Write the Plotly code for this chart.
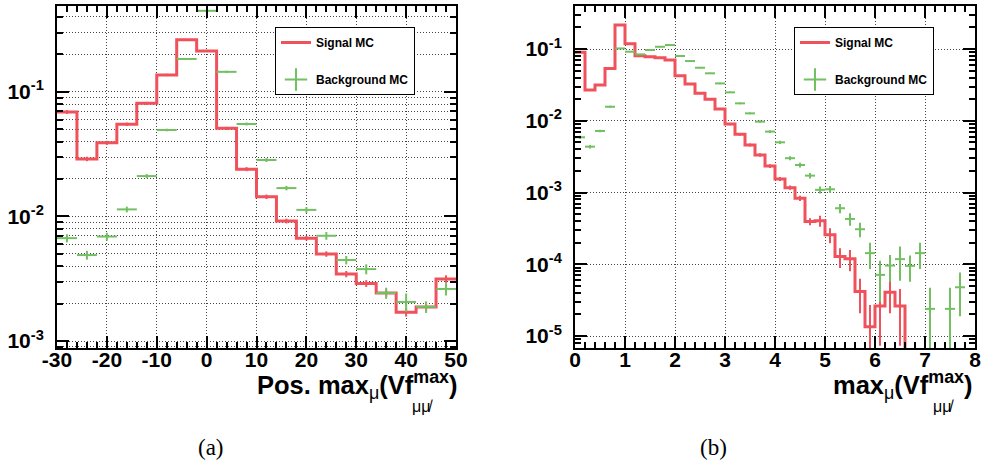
import numpy as np
import plotly.graph_objects as go

# ---------------- data ----------------
# panel (a): Pos. max_mu(Vf^max), bins of width 4 from -30 to 50
edges_a = [-30, -26, -22, -18, -14, -10, -6, -2, 2, 6, 10, 14, 18, 22, 26, 30, 34, 38, 42, 46, 50]
sig_a = [0.069, 0.029, 0.039, 0.055, 0.081, 0.137, 0.262, 0.213, 0.051, 0.024,
         0.0144, 0.0092, 0.0067, 0.0050, 0.00345, 0.0029, 0.00243, 0.0017, 0.00188, 0.00315]
sig_a_err = [0.0025, 0.0012, 0.0015, 0.0018, 0.0022, 0.003, 0.004, 0.0035, 0.0015, 0.0009,
             0.0006, 0.0004, 0.0003, 0.00025, 0.0002, 0.00018, 0.00016, 0.00013, 0.00014, 0.00022]
bkg_a = [0.0067, 0.0049, 0.0069, 0.0114, 0.0211, 0.0495, 0.184, 0.448, 0.145, 0.0553,
         0.0284, 0.0169, 0.0113, 0.0070, 0.00447, 0.00378, 0.00243, 0.00206, 0.00188, 0.00262]
bkg_a_err = [0.0005, 0.0004, 0.0005, 0.0006, 0.0008, 0.0012, 0.003, 0.006, 0.003, 0.0015,
             0.001, 0.0007, 0.0006, 0.0005, 0.00035, 0.00035, 0.00025, 0.00035, 0.0002, 0.0003]

# panel (b): max_mu(Vf^max), bins of width 0.2 from 0 to 8
edges_b = [0.0, 0.2, 0.4, 0.6, 0.8, 1.0, 1.2, 1.4, 1.6, 1.8, 2.0, 2.2, 2.4, 2.6, 2.8, 3.0,
           3.2, 3.4, 3.6, 3.8, 4.0, 4.2, 4.4, 4.6, 4.8, 5.0, 5.2, 5.4, 5.6, 5.8, 6.0, 6.2,
           6.4, 6.6, 6.8, 7.0, 7.2, 7.4, 7.6, 7.8, 8.0]
sig_b = [0.090, 0.0269, 0.0316, 0.0537, 0.216, 0.119, 0.0807, 0.078, 0.0757, 0.0703,
         0.0425, 0.0326, 0.0242, 0.0199, 0.0146, 0.0090, 0.00648, 0.0046, 0.00334, 0.00234,
         0.00155, 0.00117, 0.00083, 0.000394, 0.000403, 0.000257, 0.000128, 0.000119, 4.17e-5, 1.35e-5,
         2.63e-5, 4.07e-5, 2.63e-5, 0, 0, 0, 0, 0, 0, 0]
sig_b_err = [0.0015, 0.0008, 0.0009, 0.0012, 0.003, 0.002, 0.0015, 0.0015, 0.0014, 0.0013,
             0.001, 0.0009, 0.0007, 0.0006, 0.0005, 0.00035, 0.00028, 0.00022, 0.00018, 0.00014,
             0.0001, 0.00008, 0.00007, 0.000044, 0.00007, 0.00006, 0.000039, 0.000039, 0.000021, 0.0000135,
             0.000019, 0.00002, 0.000019, 0, 0, 0, 0, 0, 0, 0]
bkg_b = [0.00589, 0.00436, 0.00721, 0.0157, 0.102, 0.0918, 0.0843, 0.0969, 0.1076, 0.1137,
         0.080, 0.068, 0.0549, 0.0459, 0.0332, 0.0249, 0.0175, 0.0127, 0.00973, 0.00707,
         0.00501, 0.00301, 0.00242, 0.00172, 0.00109, 0.00111, 0.000604, 0.000428, 0.000308, 0.000143,
         7.11e-5, 9.6e-5, 1.18e-4, 9.5e-5, 1.43e-4, 2.39e-5, 0, 2.39e-5, 4.78e-5, 0]
bkg_b_err = [0.0003, 0.00025, 0.0003, 0.0005, 0.0015, 0.0014, 0.0013, 0.0014, 0.0015, 0.0015,
             0.0013, 0.0012, 0.001, 0.0009, 0.0008, 0.0006, 0.0005, 0.0004, 0.00035, 0.0003,
             0.00025, 0.0002, 0.00018, 0.00015, 0.00012, 0.00012, 0.00009, 0.000085, 0.00007, 0.000057,
             0.000041, 0.000039, 0.000059, 0.000038, 0.000057, 0.000023, 0, 0.000023, 0.000029, 0]

xtick_a = [-30, -20, -10, 0, 10, 20, 30, 40, 50]
xtick_a_text = ["-30", "-20", "-10", "0", "10", "20", "30", "40", "50"]
xtick_b = [0, 1, 2, 3, 4, 5, 6, 7, 8]
xtick_b_text = ["0", "1", "2", "3", "4", "5", "6", "7", "8"]
ytick_a = [1e-3, 1e-2, 1e-1]
ytick_a_text = ["10<sup>-3</sup>", "10<sup>-2</sup>", "10<sup>-1</sup>"]
ytick_b = [1e-5, 1e-4, 1e-3, 1e-2, 1e-1]
ytick_b_text = ["10<sup>-5</sup>", "10<sup>-4</sup>", "10<sup>-3</sup>", "10<sup>-2</sup>", "10<sup>-1</sup>"]

RED = "#f0525c"
GREEN = "#72c062"
GRID = "#444444"
DOT = "1px,2px"
FONT = "Liberation Sans"
W, H = 982, 468


def px_x(p):
    return p / W


def px_y(p):
    return 1 - p / H


fig = go.Figure()


def add_panel(edges, sig, sig_err, bkg, bkg_err, xa, ya, legend):
    e = np.array(edges, dtype=float)
    c = 0.5 * (e[:-1] + e[1:])
    hw = 0.5 * (e[1:] - e[:-1])
    s = np.array(sig, dtype=float)
    se = np.array(sig_err, dtype=float)
    b = np.array(bkg, dtype=float)
    be = np.array(bkg_err, dtype=float)
    s_plot = np.where(s > 0, s, 1e-12)
    # step histogram for signal
    fig.add_trace(go.Scatter(
        x=e, y=np.append(s_plot, s_plot[-1]), mode="lines", line=dict(shape="hv", color=RED, width=3),
        name="Signal MC", legendgroup="sig", legend=legend, xaxis=xa, yaxis=ya, hoverinfo="skip"))
    m = s > 0
    fig.add_trace(go.Scatter(
        x=c[m], y=s[m], mode="markers", marker=dict(size=1, color=RED, opacity=0),
        error_y=dict(type="data", array=se[m], color=RED, thickness=2, width=0),
        showlegend=False, xaxis=xa, yaxis=ya, hoverinfo="skip"))
    mb = b > 0
    fig.add_trace(go.Scatter(
        x=c[mb], y=b[mb], mode="markers", marker=dict(size=1, color=GREEN, opacity=0),
        error_x=dict(type="data", array=hw[mb], color=GREEN, thickness=2, width=0),
        error_y=dict(type="data", array=be[mb], color=GREEN, thickness=2, width=0),
        showlegend=False, xaxis=xa, yaxis=ya, hoverinfo="skip"))
    # legend entry for background
    fig.add_trace(go.Scatter(
        x=[None], y=[None], mode="markers", name="Background MC", legendgroup="bkg", legend=legend,
        marker=dict(symbol="cross-thin-open", size=16, color=GREEN, line=dict(width=2, color=GREEN)),
        xaxis=xa, yaxis=ya))


add_panel(edges_a, sig_a, sig_a_err, bkg_a, bkg_a_err, "x", "y", "legend")
add_panel(edges_b, sig_b, sig_b_err, bkg_b, bkg_b_err, "x2", "y2", "legend2")

tickfont = dict(family=FONT, size=21, color="black", weight="bold")
common_axis = dict(showline=True, linewidth=2, linecolor="black", mirror="allticks",
                   ticks="inside", ticklen=12, tickwidth=1.5, tickcolor="black",
                   showgrid=True, gridcolor=GRID, griddash=DOT, gridwidth=1,
                   zeroline=False, tickfont=tickfont, tickmode="array", automargin=False)


def minor_log(lo, hi, grid):
    vals = []
    for d in range(lo, hi):
        for k in range(2, 10):
            vals.append(k * 10.0 ** d)
    return dict(tickmode="array", tickvals=vals, ticks="inside", ticklen=6, tickwidth=1.5,
                tickcolor="black", showgrid=grid, gridcolor=GRID, griddash=DOT, gridwidth=1)


y_bot, y_top = px_y(348), px_y(6)

fig.update_layout(
    width=W, height=H, margin=dict(l=0, r=0, t=0, b=0, autoexpand=False),
    paper_bgcolor="white", plot_bgcolor="white",
    xaxis=dict(domain=[px_x(57), px_x(456)], range=[-30, 50], tickvals=xtick_a, ticktext=xtick_a_text,
               anchor="y", ticklabelstandoff=-8,
               minor=dict(tickmode="linear", tick0=-30, dtick=2, ticks="inside", ticklen=6,
                          tickwidth=1.5, tickcolor="black", showgrid=False), **common_axis),
    yaxis=dict(domain=[y_bot, y_top], type="log", range=[-3.056, -0.31], tickvals=ytick_a,
               ticktext=ytick_a_text, anchor="x", ticklabelstandoff=7,
               minor=minor_log(-4, 0, True), **common_axis),
    xaxis2=dict(domain=[px_x(575), px_x(975)], range=[0, 8], tickvals=xtick_b, ticktext=xtick_b_text,
                anchor="y2", ticklabelstandoff=-8,
                minor=dict(tickmode="linear", tick0=0, dtick=0.2, ticks="inside", ticklen=6,
                           tickwidth=1.5, tickcolor="black", showgrid=False), **common_axis),
    yaxis2=dict(domain=[y_bot, y_top], type="log", range=[-5.167, -0.40], tickvals=ytick_b,
                ticktext=ytick_b_text, anchor="x2", ticklabelstandoff=7,
                minor=minor_log(-6, 0, False), **common_axis),
    legend=dict(x=px_x(275), y=px_y(27), xanchor="left", yanchor="top", bgcolor="white",
                bordercolor="black", borderwidth=1, traceorder="grouped", tracegroupgap=18,
                font=dict(family=FONT, size=12, color="black", weight="bold")),
    legend2=dict(x=px_x(794), y=px_y(27), xanchor="left", yanchor="top", bgcolor="white",
                 bordercolor="black", borderwidth=1, traceorder="grouped", tracegroupgap=18,
                 font=dict(family=FONT, size=12, color="black", weight="bold")),
)

MU_SUB = "<sub><span style='font-weight:normal'>μ</span></sub>"
title_font = dict(family=FONT, size=25.5, color="black", weight="bold")
sub_font = dict(family=FONT, size=16, color="black", weight="normal")
annots = [
    dict(text="Pos. max" + MU_SUB + "(Vf<sup>max</sup>)", x=px_x(458), y=px_y(366), xanchor="right",
         yanchor="top", font=title_font),
    dict(text="μμ̸", x=px_x(422), y=px_y(406), xanchor="center", yanchor="middle", font=sub_font),
    dict(text="max" + MU_SUB + "(Vf<sup>max</sup>)", x=px_x(974), y=px_y(366), xanchor="right",
         yanchor="top", font=title_font),
    dict(text="μμ̸", x=px_x(943), y=px_y(406), xanchor="center", yanchor="middle", font=sub_font),
    dict(text="(a)", x=px_x(211), y=px_y(447), xanchor="center", yanchor="middle",
         font=dict(family="Liberation Serif", size=23, color="black")),
    dict(text="(b)", x=px_x(713), y=px_y(447), xanchor="center", yanchor="middle",
         font=dict(family="Liberation Serif", size=23, color="black")),
]
for a in annots:
    fig.add_annotation(xref="paper", yref="paper", showarrow=False, borderpad=0, **a)

fig.write_html("out.html", config={"displayModeBar": False},
               post_script="document.body.style.margin='0px';")
